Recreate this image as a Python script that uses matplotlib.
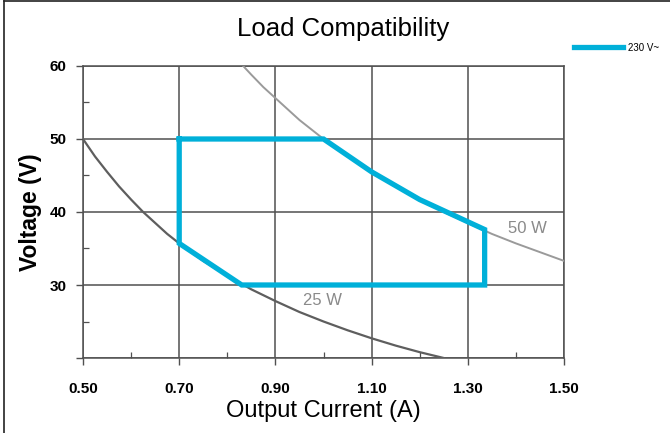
import matplotlib
matplotlib.use("Agg")
import matplotlib.pyplot as plt
from matplotlib.lines import Line2D

plt.rcParams['font.family'] = ['Liberation Sans', 'DejaVu Sans']

# 25 W power curve
current_25w = [0.50, 0.525, 0.55, 0.575, 0.60, 0.625, 0.65, 0.675, 0.70, 0.75,
               0.80, 0.85, 0.90, 0.95, 1.00, 1.05, 1.10, 1.15, 1.20, 1.25]
voltage_25w = [50.0, 47.6, 45.5, 43.5, 41.7, 40.0, 38.5, 37.0, 35.7, 33.3,
               31.3, 29.4, 27.8, 26.3, 25.0, 23.8, 22.7, 21.7, 20.8, 20.0]

# 50 W power curve
current_50w = [0.833, 0.85, 0.875, 0.90, 0.925, 0.95, 0.975, 1.00, 1.05, 1.10,
               1.15, 1.20, 1.25, 1.30, 1.35, 1.40, 1.45, 1.50]
voltage_50w = [60.0, 58.8, 57.1, 55.6, 54.1, 52.6, 51.3, 50.0, 47.6, 45.5,
               43.5, 41.7, 40.0, 38.5, 37.0, 35.7, 34.5, 33.3]

# operating area at 230 V~
area_current = [0.70, 1.00, 1.10, 1.20, 1.335, 1.335, 0.83, 0.70, 0.70]
area_voltage = [50.0, 50.0, 45.5, 41.7, 37.6, 30.0, 30.0, 35.7, 50.0]

x_ticks = [0.50, 0.70, 0.90, 1.10, 1.30, 1.50]
x_minor = [0.60, 0.80, 1.00, 1.20, 1.40]
y_ticks = [20, 30, 40, 50, 60]
y_labels = ['', '30', '40', '50', '60']
y_minor = [25, 35, 45, 55]

GRID = '#505050'
BLUE = '#00b0d9'

fig = plt.figure(figsize=(6.7, 4.33), dpi=100)
ax = fig.add_axes([0.1239, 0.1732, 0.7179, 0.6744])

ax.plot(current_25w, voltage_25w, color='#5e5e5e', lw=1.6, zorder=3)
ax.plot(current_50w, voltage_50w, color='#9a9a9a', lw=1.4, zorder=3)
ax.plot(area_current, area_voltage, color=BLUE, lw=3.8, zorder=4,
        solid_joinstyle='miter', label='230 V~')

ax.text(1.423, 37.8, '50 W', color='#8a8a8a', fontsize=12, ha='center', va='center')
ax.text(0.997, 27.9, '25 W', color='#8a8a8a', fontsize=12, ha='center', va='center')

ax.set_xlim(0.5, 1.5)
ax.set_ylim(20, 60)
ax.set_xticks(x_ticks)
ax.set_xticklabels([f'{v:.2f}' for v in x_ticks], fontweight='bold', fontsize=11)
ax.set_xticks(x_minor, minor=True)
ax.set_yticks(y_ticks)
ax.set_yticklabels(y_labels, fontweight='bold', fontsize=11)
ax.set_yticks(y_minor, minor=True)

ax.tick_params(which='major', direction='out', length=5, width=1, color=GRID)
ax.tick_params(axis='x', which='major', pad=12)
ax.tick_params(axis='y', which='major', pad=7)
ax.tick_params(which='minor', direction='in', length=4, width=0.9, color=GRID)

ax.grid(True, which='major', color=GRID, lw=1.1)
for s in ax.spines.values():
    s.set_color(GRID)
    s.set_linewidth(1.1)

ax.set_xlabel('Output Current (A)', fontsize=17, labelpad=3)
ax.set_ylabel('Voltage (V)', fontsize=16.5, fontweight='bold', labelpad=5)

fig.text(0.512, 0.933, 'Load Compatibility', fontsize=18.5, ha='center', va='center')

ax.legend(loc='center left', bbox_to_anchor=(1.013, 1.062), frameon=False,
          fontsize=7, handlelength=5.0, handletextpad=0.5, borderaxespad=0)

# frame lines at left and top of the figure
fig.add_artist(Line2D([0.006, 0.006], [0, 0.998], transform=fig.transFigure,
                      color='#222222', lw=1.2))
fig.add_artist(Line2D([0.006, 1.0], [0.998, 0.998], transform=fig.transFigure,
                      color='#222222', lw=1.2))

fig.savefig('out.png', dpi=100)
